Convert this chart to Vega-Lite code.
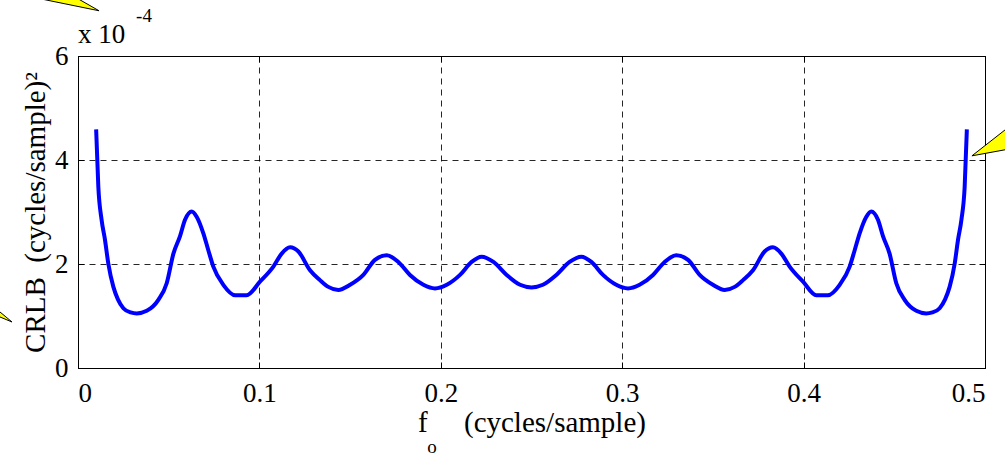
{
  "$schema": "https://vega.github.io/schema/vega-lite/v6.json",
  "width": 907,
  "height": 312,
  "autosize": {"type": "none"},
  "padding": {"left": 78, "top": 56, "right": 20, "bottom": 87},
  "background": "white",
  "config": {
    "view": {"stroke": "black", "strokeWidth": 1},
    "font": "Liberation Serif",
    "axis": {
      "labelFont": "Liberation Serif",
      "titleFont": "Liberation Serif",
      "labelFontSize": 27,
      "titleFontSize": 29,
      "titleFontWeight": "normal",
      "labelColor": "black",
      "titleColor": "black",
      "domainColor": "black",
      "tickColor": "black",
      "domainWidth": 1,
      "tickWidth": 1,
      "gridColor": "black",
      "gridOpacity": 0.85,
      "gridDash": [6, 5],
      "gridWidth": 1
    }
  },
  "datasets": {
    "crlb": [
      {"f": 0.0100, "v": 4.59}, {"f": 0.0112, "v": 3.49}, {"f": 0.0130, "v": 2.85}, {"f": 0.0149, "v": 2.46},
      {"f": 0.0167, "v": 2.01}, {"f": 0.0195, "v": 1.56}, {"f": 0.0220, "v": 1.32}, {"f": 0.0250, "v": 1.15},
      {"f": 0.0290, "v": 1.07}, {"f": 0.0324, "v": 1.05}, {"f": 0.0379, "v": 1.10}, {"f": 0.0443, "v": 1.31},
      {"f": 0.0489, "v": 1.63}, {"f": 0.0526, "v": 2.20}, {"f": 0.0562, "v": 2.53}, {"f": 0.0590, "v": 2.85},
      {"f": 0.0627, "v": 3.01}, {"f": 0.0654, "v": 2.91}, {"f": 0.0691, "v": 2.59}, {"f": 0.0718, "v": 2.27},
      {"f": 0.0746, "v": 1.95}, {"f": 0.0801, "v": 1.60}, {"f": 0.0866, "v": 1.40}, {"f": 0.0930, "v": 1.40},
      {"f": 0.1003, "v": 1.66}, {"f": 0.1077, "v": 1.95}, {"f": 0.1123, "v": 2.20}, {"f": 0.1169, "v": 2.32},
      {"f": 0.1215, "v": 2.24}, {"f": 0.1279, "v": 1.88}, {"f": 0.1334, "v": 1.69}, {"f": 0.1380, "v": 1.56},
      {"f": 0.1435, "v": 1.50}, {"f": 0.1500, "v": 1.60}, {"f": 0.1573, "v": 1.79}, {"f": 0.1637, "v": 2.08},
      {"f": 0.1702, "v": 2.17}, {"f": 0.1766, "v": 2.04}, {"f": 0.1830, "v": 1.79}, {"f": 0.1904, "v": 1.60},
      {"f": 0.1968, "v": 1.53}, {"f": 0.2033, "v": 1.60}, {"f": 0.2106, "v": 1.79}, {"f": 0.2170, "v": 2.04},
      {"f": 0.2225, "v": 2.14}, {"f": 0.2290, "v": 2.04}, {"f": 0.2363, "v": 1.79}, {"f": 0.2437, "v": 1.60},
      {"f": 0.2500, "v": 1.55},
      {"f": 0.2563, "v": 1.60}, {"f": 0.2637, "v": 1.79}, {"f": 0.2710, "v": 2.04}, {"f": 0.2775, "v": 2.14},
      {"f": 0.2830, "v": 2.04}, {"f": 0.2894, "v": 1.79}, {"f": 0.2967, "v": 1.60}, {"f": 0.3032, "v": 1.53},
      {"f": 0.3096, "v": 1.60}, {"f": 0.3170, "v": 1.79}, {"f": 0.3234, "v": 2.04}, {"f": 0.3298, "v": 2.17},
      {"f": 0.3363, "v": 2.08}, {"f": 0.3427, "v": 1.79}, {"f": 0.3500, "v": 1.60}, {"f": 0.3565, "v": 1.50},
      {"f": 0.3620, "v": 1.56}, {"f": 0.3666, "v": 1.69}, {"f": 0.3721, "v": 1.88}, {"f": 0.3785, "v": 2.24},
      {"f": 0.3831, "v": 2.32}, {"f": 0.3877, "v": 2.20}, {"f": 0.3923, "v": 1.95}, {"f": 0.3997, "v": 1.66},
      {"f": 0.4070, "v": 1.40}, {"f": 0.4134, "v": 1.40}, {"f": 0.4199, "v": 1.60}, {"f": 0.4254, "v": 1.95},
      {"f": 0.4282, "v": 2.27}, {"f": 0.4309, "v": 2.59}, {"f": 0.4346, "v": 2.91}, {"f": 0.4373, "v": 3.01},
      {"f": 0.4410, "v": 2.85}, {"f": 0.4438, "v": 2.53}, {"f": 0.4474, "v": 2.20}, {"f": 0.4511, "v": 1.63},
      {"f": 0.4557, "v": 1.31}, {"f": 0.4621, "v": 1.10}, {"f": 0.4676, "v": 1.05}, {"f": 0.4710, "v": 1.07},
      {"f": 0.4750, "v": 1.15}, {"f": 0.4780, "v": 1.32}, {"f": 0.4805, "v": 1.56}, {"f": 0.4833, "v": 2.01},
      {"f": 0.4851, "v": 2.46}, {"f": 0.4870, "v": 2.85}, {"f": 0.4888, "v": 3.49}, {"f": 0.4900, "v": 4.59}
    ]
  },
  "layer": [
    {
      "data": {"name": "crlb"},
      "mark": {"type": "line", "color": "#0000FF", "strokeWidth": 4, "strokeJoin": "round", "strokeCap": "butt", "interpolate": "monotone"},
      "encoding": {
        "x": {
          "field": "f", "type": "quantitative",
          "scale": {"domain": [0, 0.5], "nice": false, "zero": false},
          "axis": {
            "orient": "bottom", "values": [0, 0.1, 0.2, 0.3, 0.4, 0.5], "format": ".1~f",
            "grid": true, "tickSize": -6, "labelPadding": 18,
            "title": "f\u00a0\u00a0\u00a0\u00a0\u00a0(cycles/sample)", "titlePadding": 2
          }
        },
        "y": {
          "field": "v", "type": "quantitative",
          "scale": {"domain": [0, 6], "nice": false, "zero": false},
          "axis": {
            "orient": "left", "values": [0, 2, 4, 6], "format": "d",
            "grid": true, "tickSize": -6, "labelPadding": 16,
            "title": "CRLB\u00a0\u00a0(cycles/sample)²", "titlePadding": 4
          }
        }
      }
    },
    {
      "data": {"values": [{"f": 0.4928, "v": 4.08}]},
      "mark": {"type": "point", "filled": true, "fill": "#FFFF00", "stroke": "black", "strokeWidth": 1, "opacity": 1, "fillOpacity": 1, "size": 4,
               "shape": "M0,0 L60,-47 L60,-11 Z"},
      "encoding": {
        "x": {"field": "f", "type": "quantitative",
              "axis": {"orient": "top", "values": [0, 0.1, 0.2, 0.3, 0.4, 0.5], "labels": false, "title": null, "grid": false, "tickSize": -6}},
        "y": {"field": "v", "type": "quantitative",
              "axis": {"orient": "right", "values": [0, 2, 4, 6], "labels": false, "title": null, "grid": false, "tickSize": -6}}
      }
    },
    {
      "data": {"values": [{"f": 0.0116, "v": 6.87}]},
      "mark": {"type": "point", "filled": true, "fill": "#FFFF00", "stroke": "black", "strokeWidth": 1, "opacity": 1, "fillOpacity": 1, "size": 4,
               "shape": "M0,0 L-98,-20 L-35,-20 Z"},
      "encoding": {
        "x": {"field": "f", "type": "quantitative", "axis": null},
        "y": {"field": "v", "type": "quantitative", "axis": null}
      }
    },
    {
      "data": {"values": [{"f": -0.0364, "v": 0.885}]},
      "mark": {"type": "point", "filled": true, "fill": "#FFFF00", "stroke": "black", "strokeWidth": 1, "opacity": 1, "fillOpacity": 1, "size": 4,
               "shape": "M0,0 L-36,-30 L-36,-15 Z"},
      "encoding": {
        "x": {"field": "f", "type": "quantitative", "axis": null},
        "y": {"field": "v", "type": "quantitative", "axis": null}
      }
    },
    {
      "data": {"values": [{"f": 0, "v": 6.25, "t": "x 10"}]},
      "mark": {"type": "text", "align": "left", "baseline": "alphabetic", "font": "Liberation Serif", "fontSize": 27, "color": "black"},
      "encoding": {
        "x": {"field": "f", "type": "quantitative", "axis": null},
        "y": {"field": "v", "type": "quantitative", "axis": null},
        "text": {"field": "t"}
      }
    },
    {
      "data": {"values": [{"f": 0.032, "v": 6.65, "t": "-4"}]},
      "mark": {"type": "text", "align": "left", "baseline": "alphabetic", "font": "Liberation Serif", "fontSize": 19, "color": "black"},
      "encoding": {
        "x": {"field": "f", "type": "quantitative", "axis": null},
        "y": {"field": "v", "type": "quantitative", "axis": null},
        "text": {"field": "t"}
      }
    },
    {
      "data": {"values": [{"f": 0.1925, "v": -1.625, "t": "o"}]},
      "mark": {"type": "text", "align": "left", "baseline": "alphabetic", "font": "Liberation Serif", "fontSize": 19, "color": "black"},
      "encoding": {
        "x": {"field": "f", "type": "quantitative", "axis": null},
        "y": {"field": "v", "type": "quantitative", "axis": null},
        "text": {"field": "t"}
      }
    }
  ],
  "resolve": {"axis": {"x": "independent", "y": "independent"}}
}
